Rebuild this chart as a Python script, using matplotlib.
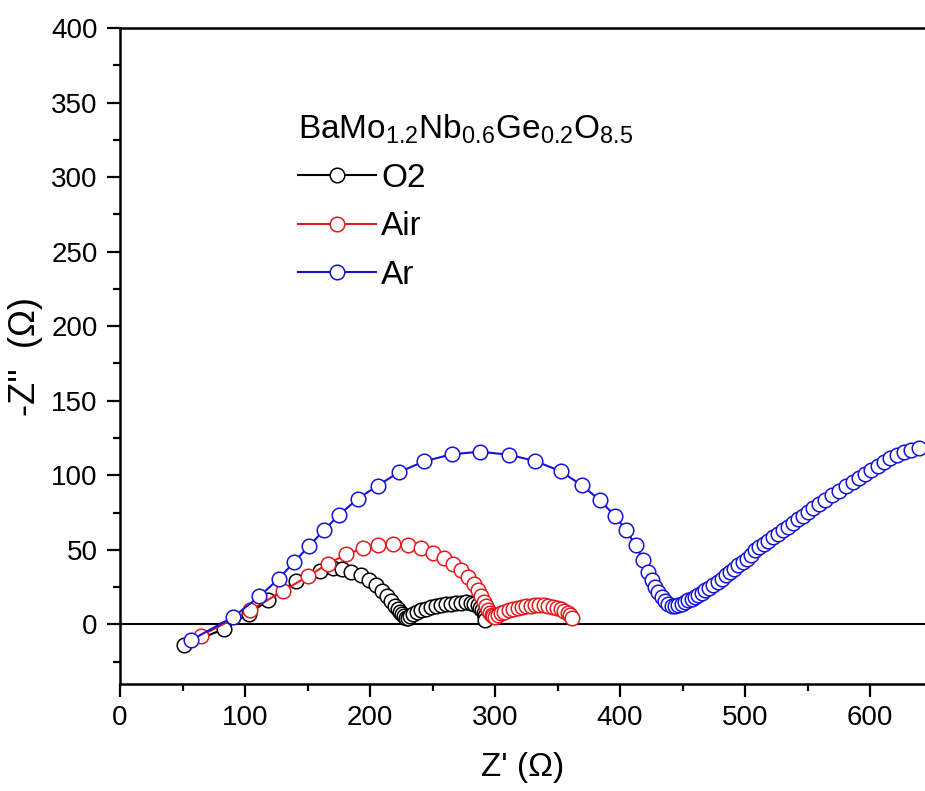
import matplotlib
matplotlib.use("Agg")
import matplotlib.pyplot as plt
from matplotlib.ticker import MultipleLocator

plt.rcParams['font.family'] = ['Liberation Sans', 'DejaVu Sans']
plt.rcParams['mathtext.fontset'] = 'custom'
plt.rcParams['mathtext.rm'] = 'Liberation Sans'
plt.rcParams['mathtext.it'] = 'Liberation Sans:italic'

# O2 data
o2_x = [51, 83.5, 103, 118.7, 140.5, 160, 170.5, 177.5, 184.5, 192.5, 199.5, 205, 209.5, 213.5, 217, 220,
        222, 224, 225.5, 227, 228.5, 230, 232, 234.5, 237.5, 241, 245, 249, 253, 257, 261, 265, 269,
        273, 277, 280.5, 283.5, 286, 288, 289.5, 290.8, 291.7, 292.3]
o2_y = [-14, -3, 7.2, 16.1, 29, 35.6, 37.6, 36.8, 35.3, 33, 29.8, 26.2, 22.5, 19, 15.8, 12.6,
        10.5, 8.5, 7, 5.6, 4.5, 4.2, 5.6, 7, 8.3, 9.5, 10.5, 11.4, 12.1, 12.8, 13.4, 13.9, 14.3,
        14.6, 14.7, 14.5, 13.9, 12.8, 11.2, 9.4, 7.4, 5.3, 3.2]

# Air data
air_x = [65, 104, 130.5, 150.5, 166.5, 181, 194.5, 206.5, 218.5, 230, 240.5, 250.5, 259, 266.5, 273,
         278.5, 283, 286.3, 289, 291.2, 293, 294.6, 296, 297.3, 298.5, 300, 302, 304.5, 307.5, 311,
         314.5, 318, 321.5, 325, 328.5, 332, 335.5, 339, 342.5, 346, 349.5, 352.5, 355.5, 358, 360,
         361.5]
air_y = [-7.5, 9.4, 22.4, 32.4, 40.7, 47, 51, 53.5, 54.2, 53.2, 51, 48.2, 44.6, 40.6, 36.2,
         31.9, 27.3, 23, 18.8, 15.3, 12.3, 9.8, 7.8, 6.3, 5.3, 5, 6.2, 7.4, 8.6, 9.7,
         10.6, 11.3, 11.9, 12.3, 12.6, 12.8, 12.8, 12.7, 12.4, 11.9, 11.1, 10.1, 8.9, 7.6, 6.1,
         4.6]

# Ar data
ar_x = [57, 90.5, 111.5, 127, 139.5, 151.5, 163, 175.5, 190, 206, 223.5, 243.5, 265.5, 288, 311,
        332, 352.5, 369.5, 384, 396, 405, 412.5, 418.5, 422.7, 425.5, 428, 430.5, 433.3, 436,
        438.7, 441.3, 444, 446.7, 449.3, 452, 454.7, 457.3, 460, 462.7, 465.3, 468, 471.3, 474.7,
        478, 481.3, 484.7, 488, 491.3, 494.7, 498, 501.3, 504.7, 508, 511.5, 515, 518.5, 522, 526,
        530, 534, 538, 542, 546, 550, 554.5, 559, 564, 569.5, 575, 580.5, 586, 591, 596, 601,
        606, 611, 616, 621.5, 627, 633, 639.5]
ar_y = [-10.5, 4.9, 18.8, 30.6, 42, 52.8, 63, 73.6, 84.1, 93, 102.2, 109.4, 114.1, 115.8, 113.8,
        109.6, 102.7, 93.3, 83.2, 72.7, 63, 53, 43.5, 35, 29.5, 25, 21.7, 18.3, 16,
        13.9, 12.3, 12.3, 12.8, 13.8, 15, 16.1, 17.2, 18.3, 19.5, 21.1, 22.8, 24.5, 26.2,
        28.4, 30.6, 32.8, 35.1, 37.4, 39.6, 41.8, 44, 46.8, 49.7, 51.8, 53.9, 56, 58.4, 60.8,
        63.2, 65.6, 68, 70.5, 73, 75.4, 78.2, 80.8, 83.6, 86.6, 89.6, 92.6, 95.4, 98.2, 100.9, 103.6,
        106.2, 108.8, 111.4, 113.7, 115.6, 117.2, 118.5]

series_labels = ['O2', 'Air', 'Ar']
series_colors = ['#000000', '#e41a1c', '#1414d6']
legend_title = 'BaMo$_{\\mathrm{1.2}}$Nb$_{\\mathrm{0.6}}$Ge$_{\\mathrm{0.2}}$O$_{\\mathrm{8.5}}$'

fig = plt.figure(figsize=(9.25, 7.91), dpi=100)
ax = fig.add_axes([120 / 925, 107 / 791, 805 / 925, 656 / 791])

ax.axhline(0, color='black', lw=1.5, zorder=1)

for xs, ys, lab, col in zip([o2_x, air_x, ar_x], [o2_y, air_y, ar_y], series_labels, series_colors):
    ax.plot(xs, ys, '-o', color=col, lw=1.5, markersize=10.5, markerfacecolor='white',
            markeredgecolor=col, markeredgewidth=1.1, label=lab, zorder=3, clip_on=False)

ax.set_xlim(0, 644)
ax.set_ylim(-40, 400)
ax.xaxis.set_major_locator(MultipleLocator(100))
ax.xaxis.set_minor_locator(MultipleLocator(50))
ax.yaxis.set_major_locator(MultipleLocator(50))
ax.yaxis.set_minor_locator(MultipleLocator(25))

for s in ['left', 'bottom', 'top']:
    ax.spines[s].set_linewidth(1.8)
ax.spines['right'].set_visible(False)

ax.tick_params(which='major', direction='out', length=9.5, width=1.6, labelsize=20)
ax.tick_params(axis='x', which='major', pad=5.5)
ax.tick_params(axis='y', which='major', pad=6.5)
ax.tick_params(which='minor', direction='out', length=4.8, width=1.6)
ax.tick_params(top=False, right=False, which='both')

ax.set_xlabel("Z' (\u03a9)", fontsize=24, labelpad=15)
ax.set_ylabel("-Z''  (\u03a9)", fontsize=26, labelpad=6)

leg = ax.legend(title=legend_title, loc='upper left', bbox_to_anchor=(0.204, 0.892),
                frameon=False, fontsize=24, title_fontsize=24, handlelength=2.35,
                handletextpad=0.15, labelspacing=0.52, borderaxespad=0, alignment='left')

fig.savefig('out.png', dpi=100)
